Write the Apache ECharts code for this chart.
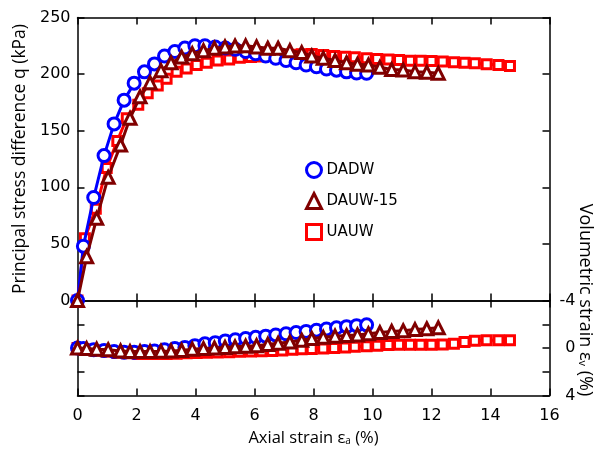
<!DOCTYPE html>
<html>
<head>
<meta charset="utf-8">
<script src="https://cdn.jsdelivr.net/npm/echarts@6/dist/echarts.min.js"></script>
<style>
html,body{margin:0;padding:0;background:#fff;}
#main{width:595px;height:450px;}
</style>
</head>
<body>
<div id="main"></div>
<script>
// ---- data ----
var seriesNames = ['DADW', 'DAUW-15', 'UAUW'];

var dadwStrain = [0, 0.2, 0.55, 0.9, 1.24, 1.58, 1.92, 2.27, 2.61, 2.95, 3.3, 3.64, 3.98, 4.32, 4.67, 5.01, 5.35, 5.7, 6.04, 6.38, 6.72, 7.07, 7.41, 7.75, 8.1, 8.44, 8.78, 9.12, 9.46, 9.8];
var dadwQ = [0, 48, 91, 128, 156, 177, 192, 202, 209, 216, 220, 223, 225, 225, 224, 223, 222, 220, 218, 216, 214, 212, 210, 208, 206.5, 204.5, 203.5, 202, 201, 200.7];
var dadwEv = [0, 0.05, 0.15, 0.2, 0.3, 0.35, 0.35, 0.3, 0.25, 0.15, 0.05, -0.05, -0.2, -0.35, -0.45, -0.6, -0.7, -0.8, -0.9, -1.0, -1.1, -1.2, -1.3, -1.4, -1.5, -1.6, -1.7, -1.8, -1.88, -1.95];

var dauwStrain = [0, 0.31, 0.65, 1.04, 1.46, 1.78, 2.12, 2.46, 2.83, 3.17, 3.53, 3.89, 4.27, 4.64, 5.0, 5.34, 5.7, 6.07, 6.45, 6.8, 7.2, 7.6, 7.94, 8.33, 8.73, 9.12, 9.49, 9.86, 10.25, 10.65, 11.04, 11.44, 11.84, 12.23];
var dauwQ = [0, 38.7, 72.6, 108.8, 137.4, 161, 180, 192.4, 203, 210, 215, 218, 220.7, 222.8, 224, 224.8, 225, 224, 222.8, 222.8, 220.7, 219, 216, 214, 212, 210, 208.6, 208, 206, 204, 203.6, 202, 201.6, 200.7];
var dauwEv = [0, 0.05, 0.1, 0.15, 0.25, 0.3, 0.3, 0.3, 0.28, 0.25, 0.2, 0.1, 0.05, 0, -0.05, -0.1, -0.15, -0.2, -0.3, -0.4, -0.5, -0.65, -0.8, -0.9, -1.0, -1.05, -1.1, -1.2, -1.3, -1.4, -1.45, -1.55, -1.62, -1.7];

var uauwStrain = [0, 0.25, 0.62, 0.99, 1.35, 1.67, 2.06, 2.38, 2.72, 3.02, 3.36, 3.7, 4.04, 4.38, 4.75, 5.14, 5.5, 5.88, 6.24, 6.6, 6.94, 7.28, 7.6, 7.94, 8.33, 8.7, 9.07, 9.4, 9.8, 10.16, 10.54, 10.9, 11.27, 11.63, 12.0, 12.38, 12.76, 13.12, 13.47, 13.87, 14.27, 14.66];
var uauwQ = [0, 55, 81, 117, 141, 161, 173, 183, 190, 196, 202, 205, 208, 210, 212, 213, 214.5, 215, 215.5, 216, 216.5, 217, 217.5, 217.7, 216.8, 216, 215.4, 214.8, 214, 213.4, 213, 212.5, 211.8, 211.8, 211.6, 211.2, 210.4, 210, 209.5, 208.7, 208, 207.2];
var uauwEv = [0, 0.1, 0.2, 0.3, 0.4, 0.45, 0.5, 0.5, 0.5, 0.5, 0.48, 0.45, 0.42, 0.4, 0.38, 0.35, 0.32, 0.3, 0.27, 0.25, 0.2, 0.15, 0.1, 0.08, 0.05, 0, -0.05, -0.1, -0.15, -0.2, -0.25, -0.28, -0.28, -0.28, -0.28, -0.3, -0.35, -0.5, -0.62, -0.65, -0.65, -0.65];

var strainTicks = [0, 2, 4, 6, 8, 10, 12, 14, 16];
var qTicks = [0, 50, 100, 150, 200, 250];
var evTickLabels = [-4, 0, 4];

// ---- build ----
function pairs(xs, ys) { return xs.map(function (x, i) { return [x, ys[i]]; }); }

var colors = ['#0000ff', '#800000', '#ff0000'];
var symbols = ['circle', 'triangle', 'rect'];
var sizes = [12, 12, 9];

var tickFont = { fontFamily: 'DejaVu Sans', fontSize: 16, color: '#000' };
var axisLine = { show: true, onZero: false, lineStyle: { color: '#000', width: 1.5 } };
var tickIn = { show: true, inside: true, length: 7, lineStyle: { color: '#000', width: 1.5 } };

var L = 77.5, R = 45.5;

function mkSeries(name, idx, xs, ys, xAxisIndex, yAxisIndex, z) {
  return {
    name: name, type: 'line', data: pairs(xs, ys),
    xAxisIndex: xAxisIndex, yAxisIndex: yAxisIndex,
    symbol: symbols[idx], symbolSize: sizes[idx], showSymbol: true,
    lineStyle: { color: colors[idx], width: 3 },
    itemStyle: { color: '#fff', borderColor: colors[idx], borderWidth: 3 },
    z: z, animation: false, clip: false
  };
}

var option = {
  animation: false,
  backgroundColor: '#fff',
  grid: [
    { left: L, right: R, top: 17.5, height: 283 },
    { left: L, right: R, top: 300.5, height: 95 }
  ],
  xAxis: [
    { gridIndex: 0, type: 'value', min: 0, max: 16, interval: 2, position: 'bottom',
      axisLine: axisLine, axisTick: tickIn, axisLabel: { show: false }, splitLine: { show: false } },
    { gridIndex: 0, type: 'value', min: 0, max: 16, interval: 2, position: 'top',
      axisLine: axisLine, axisTick: tickIn, axisLabel: { show: false }, splitLine: { show: false } },
    { gridIndex: 1, type: 'value', min: 0, max: 16, interval: 2, position: 'bottom',
      axisLine: axisLine, axisTick: tickIn,
      axisLabel: Object.assign({ margin: 12, formatter: function (v) { return strainTicks.indexOf(v) >= 0 ? String(v) : ''; } }, tickFont),
      splitLine: { show: false },
      name: 'Axial strain ε{sub|a} (%)', nameLocation: 'middle', nameGap: 34,
      nameTextStyle: { fontFamily: 'Open Sans', fontSize: 16.5, color: '#000',
        rich: { sub: { fontFamily: 'Open Sans', fontSize: 10, color: '#000', padding: [6, 0, 0, 0] } } } },
    { gridIndex: 1, type: 'value', min: 0, max: 16, interval: 2, position: 'top',
      axisLine: axisLine, axisTick: tickIn, axisLabel: { show: false }, splitLine: { show: false } }
  ],
  yAxis: [
    { gridIndex: 0, type: 'value', min: 0, max: 250, interval: 50, position: 'left',
      axisLine: axisLine, axisTick: tickIn,
      axisLabel: Object.assign({ margin: 7, formatter: function (v) { return qTicks.indexOf(v) >= 0 ? String(v) : ''; } }, tickFont),
      splitLine: { show: false },
      name: 'Principal stress difference q (kPa)', nameLocation: 'middle', nameGap: 47, nameRotate: 90,
      nameTextStyle: { fontFamily: 'Open Sans', fontSize: 17.5, color: '#000' } },
    { gridIndex: 0, type: 'value', min: 0, max: 250, interval: 50, position: 'right',
      axisLine: axisLine, axisTick: tickIn, axisLabel: { show: false }, splitLine: { show: false } },
    { gridIndex: 1, type: 'value', min: -4, max: 4, interval: 2, inverse: true, position: 'left',
      axisLine: axisLine, axisTick: tickIn, axisLabel: { show: false }, splitLine: { show: false } },
    { gridIndex: 1, type: 'value', min: -4, max: 4, interval: 2, inverse: true, position: 'right',
      axisLine: axisLine, axisTick: tickIn,
      axisLabel: Object.assign({ margin: 26, align: 'right', formatter: function (v) { return evTickLabels.indexOf(v) >= 0 ? String(v) : ''; } }, tickFont),
      splitLine: { show: false } }
  ],
  legend: {
    orient: 'vertical', left: 300, top: 156, itemGap: 13, itemWidth: 15, itemHeight: 15,
    textStyle: { fontFamily: 'DejaVu Sans', fontSize: 15, color: '#000' },
    data: [
      { name: seriesNames[0], icon: 'circle', itemStyle: { color: '#fff', borderColor: colors[0], borderWidth: 3 } },
      { name: seriesNames[1], icon: 'triangle', itemStyle: { color: '#fff', borderColor: colors[1], borderWidth: 3 } },
      { name: seriesNames[2], icon: 'rect', itemStyle: { color: '#fff', borderColor: colors[2], borderWidth: 3 } }
    ]
  },
  graphic: [
    { type: 'text', x: 585, y: 300, rotation: -Math.PI / 2, z: 100,
      style: { text: 'Volumetric strain ε{sub|v} (%)', fontFamily: 'Open Sans', fontSize: 18, fill: '#000',
        align: 'center', verticalAlign: 'middle',
        rich: { sub: { fontFamily: 'Open Sans', fontSize: 11, fill: '#000', padding: [6, 0, 0, 0] } } } }
  ],
  series: [
    mkSeries(seriesNames[2], 2, uauwStrain, uauwQ, 0, 0, 2),
    mkSeries(seriesNames[0], 0, dadwStrain, dadwQ, 0, 0, 3),
    mkSeries(seriesNames[1], 1, dauwStrain, dauwQ, 0, 0, 4),
    mkSeries(seriesNames[2], 2, uauwStrain, uauwEv, 2, 2, 2),
    mkSeries(seriesNames[0], 0, dadwStrain, dadwEv, 2, 2, 3),
    mkSeries(seriesNames[1], 1, dauwStrain, dauwEv, 2, 2, 4)
  ]
};

var chart = echarts.init(document.getElementById('main'), null, { renderer: 'canvas' });
chart.setOption(option);
</script>
</body>
</html>
